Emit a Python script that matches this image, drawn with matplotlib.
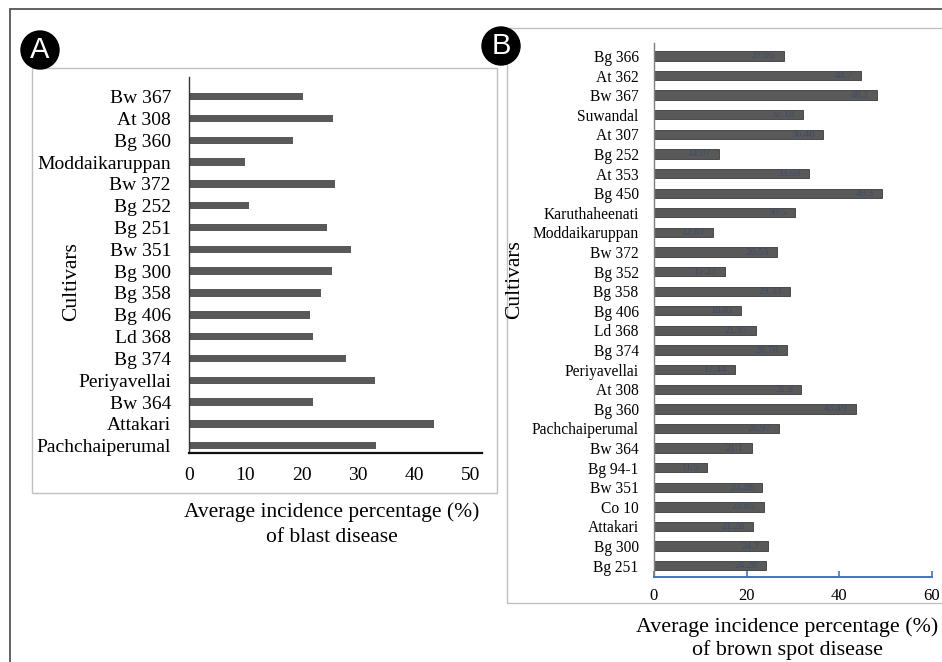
import matplotlib
matplotlib.use("Agg")
import matplotlib.pyplot as plt
from matplotlib.patches import Rectangle, Ellipse
import numpy as np

plt.rcParams['font.family'] = ['Liberation Serif', 'DejaVu Serif']

# ---------------- data ----------------
cultivars_a = ["Bw 367", "At 308", "Bg 360", "Moddaikaruppan", "Bw 372", "Bg 252",
               "Bg 251", "Bw 351", "Bg 300", "Bg 358", "Bg 406", "Ld 368", "Bg 374",
               "Periyavellai", "Bw 364", "Attakari", "Pachchaiperumal"]
blast_values = [20.3, 25.6, 18.4, 10.0, 25.9, 10.7, 24.6, 28.8, 25.4, 23.4, 21.5,
                22.1, 27.9, 33.1, 22.0, 43.5, 33.2]
ticks_a = [0, 10, 20, 30, 40, 50]

cultivars_b = ["Bg 366", "At 362", "Bw 367", "Suwandal", "At 307", "Bg 252", "At 353",
               "Bg 450", "Karuthaheenati", "Moddaikaruppan", "Bw 372", "Bg 352",
               "Bg 358", "Bg 406", "Ld 368", "Bg 374", "Periyavellai", "At 308",
               "Bg 360", "Pachchaiperumal", "Bw 364", "Bg 94-1", "Bw 351", "Co 10",
               "Attakari", "Bg 300", "Bg 251"]
brown_values = [27.95, 44.7, 48.2, 32.18, 36.46, 14.07, 33.53, 49.3, 30.5, 12.67,
                26.53, 15.27, 29.33, 18.81, 21.97, 28.78, 17.44, 31.8, 43.49, 26.97,
                21.1, 11.5, 23.28, 23.65, 21.28, 24.7, 24.28]
brown_labels = ["27.95", "44.7", "48.2", "32.18", "36.46", "14.07", "33.53", "49.3",
                "30.5", "12.67", "26.53", "15.27", "29.33", "18.81", "21.97", "28.78",
                "17.44", "31.8", "43.49", "26.97", "21.1", "11.5", "23.28", "23.65",
                "21.28", "24.7", "24.28"]
ticks_b = [0, 20, 40, 60]

# ---------------- figure ----------------
W, H = 942, 662
fig = plt.figure(figsize=(W / 100, H / 100), dpi=100)


def px_axes(l, t, r, b):
    return fig.add_axes([l / W, 1 - b / H, (r - l) / W, (b - t) / H])


def fx(x):
    return x / W


def fy(y):
    return 1 - y / H


def rect(x0, y0, x1, y1, color, lw):
    fig.add_artist(Rectangle((fx(x0), fy(y1)), (x1 - x0) / W, (y1 - y0) / H,
                             transform=fig.transFigure, fill=False,
                             edgecolor=color, linewidth=lw))


# outer frame and panel boxes
rect(10, 9, 960, 700, '#555555', 1.3)
rect(32, 68, 497, 493, '#C0C0C0', 1.0)
rect(507, 28, 960, 603, '#C0C0C0', 1.0)

# ---------------- panel A ----------------
axA = px_axes(189, 77, 481.7, 453)
na = len(cultivars_a)
ya = np.arange(na)[::-1]
axA.barh(ya, blast_values, height=0.34, color='#595959')
axA.set_xlim(0, 52)
axA.set_ylim(-0.335, na - 1 + 0.90)
axA.set_yticks(ya)
axA.set_yticklabels(cultivars_a, fontsize=14)
axA.set_xticks(ticks_a)
axA.set_xticklabels([str(t) for t in ticks_a], fontsize=14)
axA.tick_params(axis='both', length=0)
axA.tick_params(axis='y', pad=13)
axA.tick_params(axis='x', pad=10)
for s in ['top', 'right']:
    axA.spines[s].set_visible(False)
axA.spines['left'].set_color('#333333')
axA.spines['left'].set_linewidth(1.0)
axA.spines['bottom'].set_color('#111111')
axA.spines['bottom'].set_linewidth(1.6)
axA.set_facecolor('none')

fig.text(fx(72), fy(282), "Cultivars", rotation=90, fontsize=15.5,
         ha='center', va='center')
fig.text(fx(332), fy(512), "Average incidence percentage (%)", fontsize=15.5,
         ha='center', va='center')
fig.text(fx(332), fy(538), "of blast disease", fontsize=15.5,
         ha='center', va='center')

# ---------------- panel B ----------------
axB = px_axes(654, 43, 932, 577)
nb = len(cultivars_b)
yb = np.arange(nb)[::-1]
axB.barh(yb, brown_values, height=0.475, color='#595959', edgecolor='#3a3a3a',
         linewidth=0.6)
for yv, v, lab in zip(yb, brown_values, brown_labels):
    axB.annotate(lab, xy=(v, yv), xytext=(-6, 0), textcoords='offset points',
                 ha='right', va='center', fontsize=7.5, color='#3E4C66')
axB.set_xlim(0, 60)
axB.set_ylim(-0.576, nb - 1 + 0.66)
axB.set_yticks(yb)
axB.set_yticklabels(cultivars_b, fontsize=11.2)
axB.set_xticks(ticks_b)
axB.set_xticklabels([str(t) for t in ticks_b], fontsize=12)
axB.tick_params(axis='y', length=0, pad=11)
axB.tick_params(axis='x', direction='in', length=4, width=1.2, color='#4472C4', pad=8)
for s in ['top', 'right']:
    axB.spines[s].set_visible(False)
axB.spines['left'].set_color('#7F7F7F')
axB.spines['left'].set_linewidth(1.0)
axB.spines['bottom'].set_color('#4472C4')
axB.spines['bottom'].set_linewidth(1.4)
axB.set_facecolor('none')

fig.text(fx(515), fy(280), "Cultivars", rotation=90, fontsize=15.5,
         ha='center', va='center')
fig.text(fx(787), fy(627), "Average incidence percentage (%)", fontsize=15.8,
         ha='center', va='center')
fig.text(fx(787), fy(650), "of brown spot disease", fontsize=15.8,
         ha='center', va='center')

# ---------------- panel badges ----------------
for cx, cy, letter in [(40, 50, "A"), (501, 46, "B")]:
    fig.add_artist(Ellipse((fx(cx), fy(cy)), 38 / W, 38 / H, transform=fig.transFigure,
                           facecolor='black', edgecolor='black'))
    fig.text(fx(cx), fy(cy), letter, fontsize=21, color='white', ha='center',
             va='center', family=['Liberation Sans', 'DejaVu Sans'])

fig.savefig("out.png", dpi=100)
